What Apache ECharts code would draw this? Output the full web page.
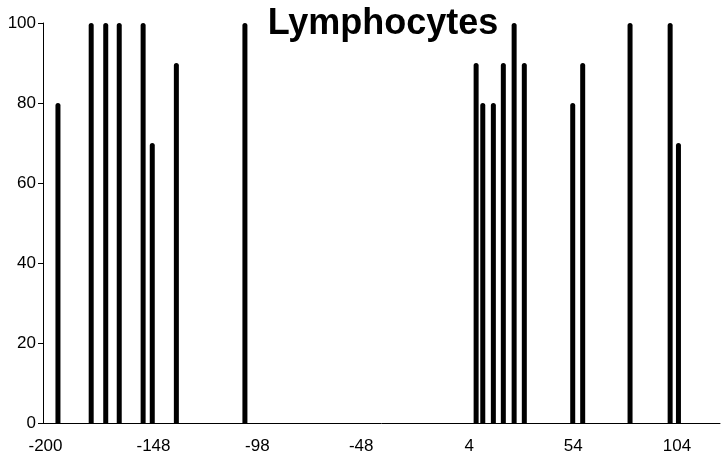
<!DOCTYPE html>
<html>
<head>
<meta charset="utf-8">
<script src="https://cdn.jsdelivr.net/npm/echarts@6/dist/echarts.min.js"></script>
<style>
  html, body { margin: 0; padding: 0; background: #fff; }
  #chart { width: 722px; height: 455px; }
</style>
</head>
<body>
<div id="chart"></div>
<script>
// Data
const chartTitle = 'Lymphocytes';
const xValues = [-194, -178, -171, -164.5, -153, -148.6, -137, -104, 7.3, 10.5, 15.6, 20.4, 25.6, 30.5, 53.8, 58.6, 81.4, 100.7, 104.7];
const yValues = [80, 100, 100, 100, 100, 70, 90, 100, 90, 80, 80, 90, 100, 90, 80, 90, 100, 100, 70];
const xTickValues = [-200, -148, -98, -48, 4, 54, 104];
const yTickValues = [0, 20, 40, 60, 80, 100];

const seriesData = xValues.map((x, i) => [x, yValues[i]]);
const font = "'Liberation Sans', Arial, sans-serif";

const chart = echarts.init(document.getElementById('chart'), null, { renderer: 'canvas' });
chart.setOption({
  animation: false,
  backgroundColor: '#ffffff',
  title: {
    text: chartTitle,
    left: 378,
    textAlign: 'center',
    top: 1,
    textStyle: { fontFamily: font, fontSize: 36, fontWeight: 'bold', color: '#000' }
  },
  grid: { left: 43, right: 2, top: 23, bottom: 32, containLabel: false },
  xAxis: {
    type: 'value',
    min: -201.2,
    max: 124.7,
    axisLine: { show: true, onZero: false, lineStyle: { color: '#000', width: 1 } },
    axisTick: { show: false },
    splitLine: { show: false },
    axisLabel: {
      customValues: xTickValues,
      color: '#000',
      fontFamily: font,
      fontSize: 17,
      margin: 15
    }
  },
  yAxis: {
    type: 'value',
    min: 0,
    max: 100,
    interval: 20,
    axisLine: { show: true, onZero: false, lineStyle: { color: '#000', width: 1 } },
    axisTick: { show: true, inside: false, length: 5, lineStyle: { color: '#000' } },
    splitLine: { show: false },
    axisLabel: {
      customValues: yTickValues,
      color: '#000',
      fontFamily: font,
      fontSize: 17,
      margin: 7
    }
  },
  series: [{
    type: 'bar',
    data: seriesData,
    barWidth: 5,
    itemStyle: { color: '#000', borderRadius: [2.5, 2.5, 0, 0] },
    emphasis: { disabled: true }
  }]
});
</script>
</body>
</html>
